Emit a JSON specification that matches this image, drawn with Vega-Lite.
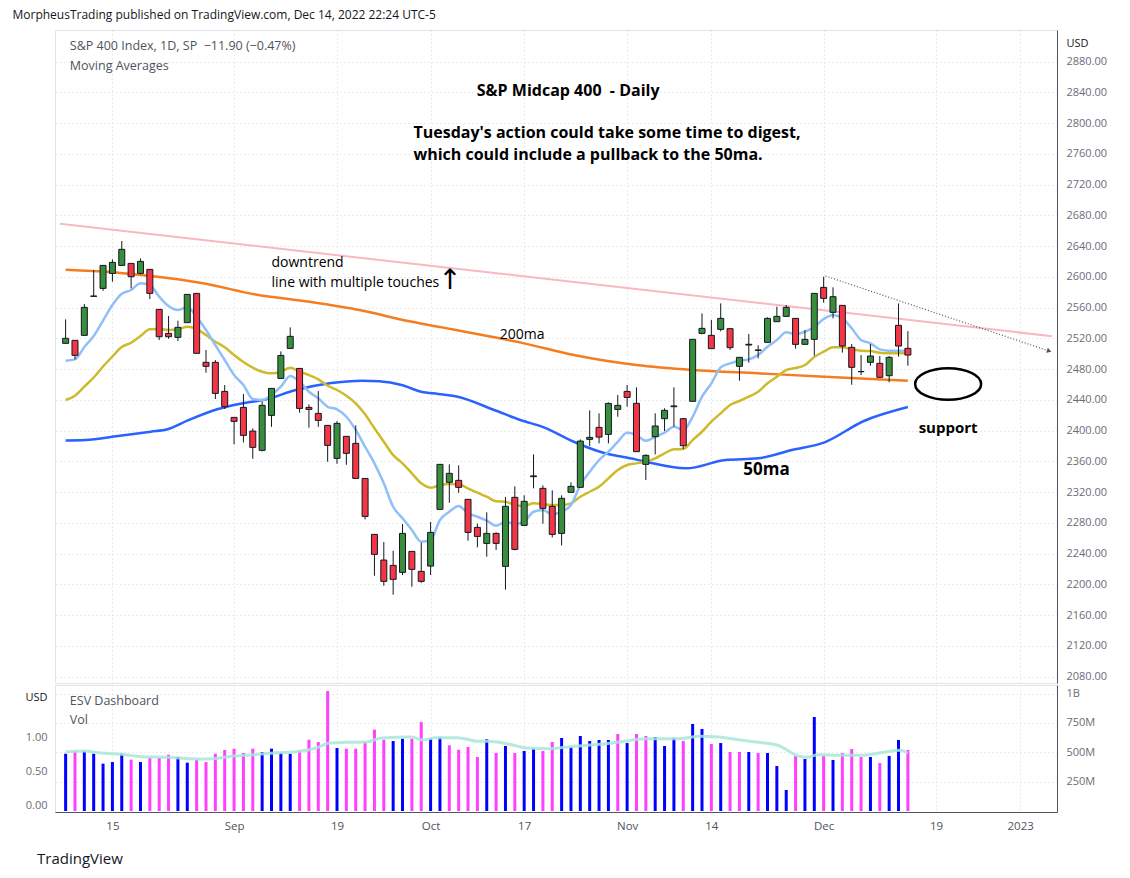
{
"$schema": "https://vega.github.io/schema/vega-lite/v6.json",
"padding": {"left": 8, "top": 8, "right": 12, "bottom": 0},
"background": "#ffffff",
"title": {"text": "MorpheusTrading published on TradingView.com, Dec 14, 2022 22:24 UTC-5", "anchor": "start", "frame": "bounds", "fontSize": 12, "fontWeight": "normal", "font": "Open Sans", "color": "#131722", "offset": 8, "dx": 4},
"spacing": 0,
"resolve": {"scale": {"color": "independent"}},
"datasets": {
"c": [
{"i":0,"o":2513.4,"h":2544.6,"l":2513.4,"c":2519.9,"v":488,"cd":"up","vd":"up"},
{"i":1,"o":2517.3,"h":2517.3,"l":2492.6,"c":2497.8,"v":509,"cd":"dn","vd":"dn"},
{"i":2,"o":2523.8,"h":2564.5,"l":2523.8,"c":2560.2,"v":509,"cd":"up","vd":"up"},
{"i":3,"o":2574.5,"h":2608.8,"l":2574.0,"c":2575.0,"v":488,"cd":"up","vd":"up"},
{"i":4,"o":2584.9,"h":2614.8,"l":2581.9,"c":2614.8,"v":403,"cd":"up","vd":"up"},
{"i":5,"o":2604.4,"h":2622.6,"l":2593.6,"c":2618.7,"v":417,"cd":"up","vd":"up"},
{"i":6,"o":2614.8,"h":2646.5,"l":2614.8,"c":2635.7,"v":488,"cd":"up","vd":"up"},
{"i":7,"o":2617.4,"h":2617.4,"l":2584.9,"c":2600.1,"v":437,"cd":"dn","vd":"dn"},
{"i":8,"o":2604.4,"h":2623.9,"l":2603.1,"c":2620.0,"v":417,"cd":"up","vd":"up"},
{"i":9,"o":2609.6,"h":2609.6,"l":2571.0,"c":2578.4,"v":452,"cd":"dn","vd":"dn"},
{"i":10,"o":2557.6,"h":2557.6,"l":2517.7,"c":2522.0,"v":452,"cd":"dn","vd":"dn"},
{"i":11,"o":2526.4,"h":2548.9,"l":2519.4,"c":2522.0,"v":480,"cd":"dn","vd":"dn"},
{"i":12,"o":2521.2,"h":2542.9,"l":2516.4,"c":2534.2,"v":460,"cd":"up","vd":"up"},
{"i":13,"o":2540.3,"h":2577.1,"l":2540.3,"c":2577.1,"v":412,"cd":"up","vd":"up"},
{"i":14,"o":2578.4,"h":2578.4,"l":2500.4,"c":2500.4,"v":437,"cd":"dn","vd":"dn"},
{"i":15,"o":2488.7,"h":2504.7,"l":2475.2,"c":2483.5,"v":417,"cd":"dn","vd":"dn"},
{"i":16,"o":2488.7,"h":2491.7,"l":2441.0,"c":2448.3,"v":488,"cd":"dn","vd":"dn"},
{"i":17,"o":2450.9,"h":2459.2,"l":2428.0,"c":2431.0,"v":520,"cd":"dn","vd":"dn"},
{"i":18,"o":2417.1,"h":2417.1,"l":2382.0,"c":2411.9,"v":531,"cd":"dn","vd":"dn"},
{"i":19,"o":2430.1,"h":2447.5,"l":2384.6,"c":2393.7,"v":494,"cd":"dn","vd":"dn"},
{"i":20,"o":2399.3,"h":2402.8,"l":2363.3,"c":2378.1,"v":531,"cd":"dn","vd":"dn"},
{"i":21,"o":2374.2,"h":2437.5,"l":2372.9,"c":2432.7,"v":503,"cd":"up","vd":"up"},
{"i":22,"o":2419.7,"h":2454.8,"l":2404.9,"c":2454.8,"v":531,"cd":"up","vd":"up"},
{"i":23,"o":2467.8,"h":2502.9,"l":2467.8,"c":2497.7,"v":494,"cd":"up","vd":"up"},
{"i":24,"o":2506.8,"h":2534.2,"l":2506.8,"c":2522.5,"v":488,"cd":"up","vd":"up"},
{"i":25,"o":2480.8,"h":2480.8,"l":2423.2,"c":2428.8,"v":517,"cd":"dn","vd":"dn"},
{"i":26,"o":2430.1,"h":2434.0,"l":2403.7,"c":2427.5,"v":607,"cd":"dn","vd":"dn"},
{"i":27,"o":2422.3,"h":2451.3,"l":2404.9,"c":2413.2,"v":588,"cd":"dn","vd":"dn"},
{"i":28,"o":2406.7,"h":2406.7,"l":2359.4,"c":2380.7,"v":1022,"cd":"dn","vd":"dn"},
{"i":29,"o":2363.8,"h":2412.3,"l":2356.8,"c":2409.3,"v":537,"cd":"up","vd":"up"},
{"i":30,"o":2392.4,"h":2392.4,"l":2355.5,"c":2370.3,"v":531,"cd":"dn","vd":"dn"},
{"i":31,"o":2383.3,"h":2406.7,"l":2337.7,"c":2337.7,"v":531,"cd":"dn","vd":"dn"},
{"i":32,"o":2337.7,"h":2337.7,"l":2284.4,"c":2288.3,"v":588,"cd":"dn","vd":"dn"},
{"i":33,"o":2264.9,"h":2264.9,"l":2211.1,"c":2238.9,"v":693,"cd":"dn","vd":"dn"},
{"i":34,"o":2231.5,"h":2254.9,"l":2198.1,"c":2203.8,"v":607,"cd":"dn","vd":"dn"},
{"i":35,"o":2224.6,"h":2243.7,"l":2186.4,"c":2206.4,"v":596,"cd":"dn","vd":"up"},
{"i":36,"o":2215.5,"h":2278.3,"l":2212.0,"c":2266.2,"v":616,"cd":"up","vd":"up"},
{"i":37,"o":2242.8,"h":2242.8,"l":2196.8,"c":2219.4,"v":616,"cd":"dn","vd":"dn"},
{"i":38,"o":2216.8,"h":2254.1,"l":2202.0,"c":2203.8,"v":758,"cd":"dn","vd":"dn"},
{"i":39,"o":2223.7,"h":2280.9,"l":2212.0,"c":2267.5,"v":616,"cd":"up","vd":"up"},
{"i":40,"o":2297.5,"h":2356.0,"l":2297.5,"c":2356.0,"v":630,"cd":"up","vd":"up"},
{"i":41,"o":2332.6,"h":2356.0,"l":2306.1,"c":2344.3,"v":560,"cd":"up","vd":"dn"},
{"i":42,"o":2335.2,"h":2354.7,"l":2319.1,"c":2326.1,"v":522,"cd":"dn","vd":"dn"},
{"i":43,"o":2310.5,"h":2310.5,"l":2256.7,"c":2267.5,"v":545,"cd":"dn","vd":"dn"},
{"i":44,"o":2274.0,"h":2278.8,"l":2248.0,"c":2262.3,"v":460,"cd":"dn","vd":"dn"},
{"i":45,"o":2253.2,"h":2293.6,"l":2235.9,"c":2266.2,"v":611,"cd":"up","vd":"up"},
{"i":46,"o":2266.2,"h":2267.5,"l":2244.6,"c":2253.2,"v":494,"cd":"dn","vd":"dn"},
{"i":47,"o":2223.3,"h":2313.5,"l":2193.0,"c":2301.4,"v":554,"cd":"up","vd":"up"},
{"i":48,"o":2313.1,"h":2327.4,"l":2244.1,"c":2245.4,"v":494,"cd":"dn","vd":"dn"},
{"i":49,"o":2276.6,"h":2315.7,"l":2276.6,"c":2307.9,"v":511,"cd":"up","vd":"up"},
{"i":50,"o":2340.0,"h":2369.0,"l":2324.8,"c":2341.0,"v":531,"cd":"up","vd":"up"},
{"i":51,"o":2324.8,"h":2328.7,"l":2278.8,"c":2298.8,"v":511,"cd":"dn","vd":"dn"},
{"i":52,"o":2301.4,"h":2322.2,"l":2261.0,"c":2264.9,"v":588,"cd":"dn","vd":"dn"},
{"i":53,"o":2266.2,"h":2315.7,"l":2250.6,"c":2311.8,"v":622,"cd":"up","vd":"up"},
{"i":54,"o":2319.6,"h":2332.6,"l":2319.6,"c":2327.4,"v":545,"cd":"up","vd":"up"},
{"i":55,"o":2326.1,"h":2388.5,"l":2326.1,"c":2386.3,"v":639,"cd":"up","vd":"up"},
{"i":56,"o":2388.5,"h":2426.2,"l":2379.8,"c":2391.1,"v":596,"cd":"up","vd":"up"},
{"i":57,"o":2404.1,"h":2422.3,"l":2383.3,"c":2391.5,"v":605,"cd":"dn","vd":"up"},
{"i":58,"o":2395.0,"h":2436.6,"l":2383.3,"c":2435.3,"v":605,"cd":"up","vd":"up"},
{"i":59,"o":2427.5,"h":2446.2,"l":2418.0,"c":2432.7,"v":656,"cd":"up","vd":"dn"},
{"i":60,"o":2450.9,"h":2459.2,"l":2431.0,"c":2443.1,"v":579,"cd":"dn","vd":"up"},
{"i":61,"o":2435.4,"h":2456.2,"l":2372.5,"c":2372.5,"v":656,"cd":"dn","vd":"dn"},
{"i":62,"o":2356.0,"h":2369.0,"l":2335.6,"c":2367.7,"v":639,"cd":"up","vd":"dn"},
{"i":63,"o":2392.0,"h":2422.4,"l":2369.0,"c":2405.9,"v":630,"cd":"up","vd":"up"},
{"i":64,"o":2415.4,"h":2428.9,"l":2399.4,"c":2426.3,"v":554,"cd":"up","vd":"up"},
{"i":65,"o":2431.0,"h":2456.2,"l":2405.0,"c":2432.0,"v":622,"cd":"up","vd":"up"},
{"i":66,"o":2415.4,"h":2415.4,"l":2376.0,"c":2380.3,"v":596,"cd":"dn","vd":"dn"},
{"i":67,"o":2438.0,"h":2518.6,"l":2438.0,"c":2518.6,"v":741,"cd":"up","vd":"up"},
{"i":68,"o":2526.4,"h":2552.4,"l":2525.1,"c":2532.9,"v":699,"cd":"up","vd":"up"},
{"i":69,"o":2523.8,"h":2543.8,"l":2506.5,"c":2506.5,"v":571,"cd":"dn","vd":"dn"},
{"i":70,"o":2531.6,"h":2565.4,"l":2529.0,"c":2545.9,"v":579,"cd":"up","vd":"up"},
{"i":71,"o":2532.5,"h":2532.5,"l":2504.7,"c":2507.8,"v":503,"cd":"dn","vd":"dn"},
{"i":72,"o":2483.5,"h":2495.2,"l":2464.8,"c":2495.2,"v":503,"cd":"up","vd":"dn"},
{"i":73,"o":2511.2,"h":2525.6,"l":2488.3,"c":2512.2,"v":503,"cd":"up","vd":"up"},
{"i":74,"o":2504.8,"h":2510.8,"l":2493.9,"c":2504.3,"v":494,"cd":"dn","vd":"dn"},
{"i":75,"o":2514.7,"h":2547.2,"l":2514.7,"c":2545.9,"v":494,"cd":"up","vd":"up"},
{"i":76,"o":2541.6,"h":2561.1,"l":2541.6,"c":2548.5,"v":383,"cd":"up","vd":"up"},
{"i":77,"o":2548.5,"h":2563.3,"l":2548.5,"c":2560.2,"v":179,"cd":"up","vd":"up"},
{"i":78,"o":2545.9,"h":2545.9,"l":2506.5,"c":2512.1,"v":469,"cd":"dn","vd":"dn"},
{"i":79,"o":2512.1,"h":2530.8,"l":2512.1,"c":2518.6,"v":443,"cd":"up","vd":"up"},
{"i":80,"o":2518.6,"h":2578.4,"l":2497.4,"c":2578.4,"v":801,"cd":"up","vd":"up"},
{"i":81,"o":2586.2,"h":2600.1,"l":2566.3,"c":2571.9,"v":469,"cd":"dn","vd":"dn"},
{"i":82,"o":2553.7,"h":2586.2,"l":2545.9,"c":2574.1,"v":435,"cd":"up","vd":"up"},
{"i":83,"o":2562.8,"h":2562.8,"l":2501.3,"c":2509.9,"v":494,"cd":"dn","vd":"dn"},
{"i":84,"o":2508.2,"h":2512.5,"l":2459.6,"c":2482.2,"v":528,"cd":"dn","vd":"dn"},
{"i":85,"o":2476.8,"h":2498.2,"l":2472.2,"c":2476.5,"v":460,"cd":"dn","vd":"dn"},
{"i":86,"o":2488.7,"h":2512.5,"l":2484.3,"c":2496.9,"v":460,"cd":"up","vd":"up"},
{"i":87,"o":2487.4,"h":2496.9,"l":2469.2,"c":2469.2,"v":409,"cd":"dn","vd":"dn"},
{"i":88,"o":2471.3,"h":2496.9,"l":2462.7,"c":2495.2,"v":469,"cd":"up","vd":"up"},
{"i":89,"o":2536.8,"h":2565.4,"l":2496.1,"c":2509.9,"v":605,"cd":"dn","vd":"up"},
{"i":90,"o":2506.9,"h":2529.4,"l":2484.3,"c":2498.2,"v":520,"cd":"dn","vd":"dn"}
],
"ma": [
{"m":"ma200","i":0,"p":2609.0},{"m":"ma200","i":5,"p":2605.8},{"m":"ma200","i":9.1,"p":2601.0},{"m":"ma200","i":14.7,"p":2591.5},{"m":"ma200","i":20.3,"p":2577.0},{"m":"ma200","i":26.1,"p":2567.5},{"m":"ma200","i":31.4,"p":2556.8},{"m":"ma200","i":36.6,"p":2542.4},{"m":"ma200","i":40.2,"p":2534.2},{"m":"ma200","i":45.5,"p":2522.0},{"m":"ma200","i":49,"p":2513.4},{"m":"ma200","i":54.3,"p":2498.2},{"m":"ma200","i":61,"p":2485.2},{"m":"ma200","i":67,"p":2478.7},{"m":"ma200","i":74,"p":2474.4},{"m":"ma200","i":81.1,"p":2470.0},{"m":"ma200","i":90,"p":2464.8},
{"m":"ma50","i":0,"p":2387.0},{"m":"ma50","i":2.1,"p":2387.6},{"m":"ma50","i":5.6,"p":2392.9},{"m":"ma50","i":9.1,"p":2398.5},{"m":"ma50","i":10.9,"p":2401.6},{"m":"ma50","i":13,"p":2412.8},{"m":"ma50","i":16.2,"p":2427.6},{"m":"ma50","i":19.7,"p":2437.1},{"m":"ma50","i":21.1,"p":2439.7},{"m":"ma50","i":24.6,"p":2452.7},{"m":"ma50","i":28.2,"p":2461.4},{"m":"ma50","i":31.7,"p":2464.8},{"m":"ma50","i":33.5,"p":2464.0},{"m":"ma50","i":35.9,"p":2459.2},{"m":"ma50","i":38,"p":2450.5},{"m":"ma50","i":39.8,"p":2447.5},{"m":"ma50","i":41.9,"p":2444.0},{"m":"ma50","i":45.8,"p":2426.7},{"m":"ma50","i":48.6,"p":2413.7},{"m":"ma50","i":51.1,"p":2404.2},{"m":"ma50","i":54.3,"p":2385.4},{"m":"ma50","i":57.1,"p":2372.4},{"m":"ma50","i":60.9,"p":2362.5},{"m":"ma50","i":62,"p":2359.4},{"m":"ma50","i":66.3,"p":2350.8},{"m":"ma50","i":70.5,"p":2361.6},{"m":"ma50","i":74,"p":2363.8},{"m":"ma50","i":77.6,"p":2374.6},{"m":"ma50","i":81.1,"p":2384.7},{"m":"ma50","i":85.3,"p":2412.4},{"m":"ma50","i":90,"p":2430.6},
{"m":"ma20","i":0,"p":2439.7},{"m":"ma20","i":1,"p":2445.3},{"m":"ma20","i":2,"p":2457.2},{"m":"ma20","i":3,"p":2469.0},{"m":"ma20","i":4,"p":2483.3},{"m":"ma20","i":5,"p":2496.3},{"m":"ma20","i":6,"p":2508.6},{"m":"ma20","i":7,"p":2514.2},{"m":"ma20","i":8,"p":2522.9},{"m":"ma20","i":9,"p":2531.7},{"m":"ma20","i":10,"p":2532.0},{"m":"ma20","i":11,"p":2530.7},{"m":"ma20","i":12,"p":2531.7},{"m":"ma20","i":13,"p":2535.0},{"m":"ma20","i":14,"p":2532.0},{"m":"ma20","i":15,"p":2524.2},{"m":"ma20","i":16,"p":2515.5},{"m":"ma20","i":17,"p":2508.2},{"m":"ma20","i":18,"p":2498.2},{"m":"ma20","i":19,"p":2489.1},{"m":"ma20","i":20,"p":2481.7},{"m":"ma20","i":21,"p":2476.5},{"m":"ma20","i":22,"p":2474.4},{"m":"ma20","i":23,"p":2476.5},{"m":"ma20","i":24,"p":2481.7},{"m":"ma20","i":25,"p":2476.5},{"m":"ma20","i":26,"p":2472.2},{"m":"ma20","i":27,"p":2466.6},{"m":"ma20","i":28,"p":2458.3},{"m":"ma20","i":29,"p":2452.7},{"m":"ma20","i":30,"p":2445.3},{"m":"ma20","i":31,"p":2435.4},{"m":"ma20","i":32,"p":2421.1},{"m":"ma20","i":33,"p":2402.9},{"m":"ma20","i":34,"p":2385.4},{"m":"ma20","i":35,"p":2368.1},{"m":"ma20","i":36,"p":2357.3},{"m":"ma20","i":37,"p":2344.3},{"m":"ma20","i":38,"p":2331.3},{"m":"ma20","i":39,"p":2325.6},{"m":"ma20","i":40,"p":2329.1},{"m":"ma20","i":41,"p":2330.4},{"m":"ma20","i":42,"p":2330.0},{"m":"ma20","i":43,"p":2324.8},{"m":"ma20","i":44,"p":2319.1},{"m":"ma20","i":45,"p":2313.9},{"m":"ma20","i":46,"p":2307.9},{"m":"ma20","i":47,"p":2307.4},{"m":"ma20","i":48,"p":2303.1},{"m":"ma20","i":49,"p":2301.8},{"m":"ma20","i":50,"p":2305.3},{"m":"ma20","i":51,"p":2304.4},{"m":"ma20","i":52,"p":2303.1},{"m":"ma20","i":53,"p":2303.1},{"m":"ma20","i":54,"p":2305.3},{"m":"ma20","i":55,"p":2313.9},{"m":"ma20","i":56,"p":2320.4},{"m":"ma20","i":57,"p":2326.9},{"m":"ma20","i":58,"p":2337.8},{"m":"ma20","i":59,"p":2348.6},{"m":"ma20","i":60,"p":2355.1},{"m":"ma20","i":61,"p":2357.3},{"m":"ma20","i":62,"p":2359.4},{"m":"ma20","i":63,"p":2363.8},{"m":"ma20","i":64,"p":2370.3},{"m":"ma20","i":65,"p":2375.5},{"m":"ma20","i":66,"p":2375.9},{"m":"ma20","i":67,"p":2387.6},{"m":"ma20","i":68,"p":2398.4},{"m":"ma20","i":69,"p":2411.5},{"m":"ma20","i":70,"p":2422.4},{"m":"ma20","i":71,"p":2433.2},{"m":"ma20","i":72,"p":2438.4},{"m":"ma20","i":73,"p":2444.0},{"m":"ma20","i":74,"p":2450.5},{"m":"ma20","i":75,"p":2461.4},{"m":"ma20","i":76,"p":2470.0},{"m":"ma20","i":77,"p":2478.7},{"m":"ma20","i":78,"p":2481.3},{"m":"ma20","i":79,"p":2485.2},{"m":"ma20","i":80,"p":2495.6},{"m":"ma20","i":81,"p":2502.5},{"m":"ma20","i":82,"p":2508.2},{"m":"ma20","i":83,"p":2508.2},{"m":"ma20","i":84,"p":2505.6},{"m":"ma20","i":85,"p":2503.8},{"m":"ma20","i":86,"p":2503.4},{"m":"ma20","i":87,"p":2501.2},{"m":"ma20","i":88,"p":2500.4},{"m":"ma20","i":89,"p":2500.4},{"m":"ma20","i":90,"p":2500.4},
{"m":"ma10","i":0,"p":2490.8},{"m":"ma10","i":1,"p":2492.6},{"m":"ma10","i":2,"p":2508.6},{"m":"ma10","i":3,"p":2522.9},{"m":"ma10","i":4,"p":2543.1},{"m":"ma10","i":5,"p":2563.3},{"m":"ma10","i":6,"p":2577.9},{"m":"ma10","i":7,"p":2582.8},{"m":"ma10","i":8,"p":2591.5},{"m":"ma10","i":9,"p":2589.3},{"m":"ma10","i":10,"p":2574.1},{"m":"ma10","i":11,"p":2562.0},{"m":"ma10","i":12,"p":2556.8},{"m":"ma10","i":13,"p":2560.3},{"m":"ma10","i":14,"p":2548.0},{"m":"ma10","i":15,"p":2530.7},{"m":"ma10","i":16,"p":2511.2},{"m":"ma10","i":17,"p":2491.7},{"m":"ma10","i":18,"p":2472.2},{"m":"ma10","i":19,"p":2459.2},{"m":"ma10","i":20,"p":2441.0},{"m":"ma10","i":21,"p":2439.7},{"m":"ma10","i":22,"p":2446.2},{"m":"ma10","i":23,"p":2457.0},{"m":"ma10","i":24,"p":2470.9},{"m":"ma10","i":25,"p":2463.5},{"m":"ma10","i":26,"p":2450.5},{"m":"ma10","i":27,"p":2441.9},{"m":"ma10","i":28,"p":2430.9},{"m":"ma10","i":29,"p":2427.6},{"m":"ma10","i":30,"p":2417.9},{"m":"ma10","i":31,"p":2400.7},{"m":"ma10","i":32,"p":2378.9},{"m":"ma10","i":33,"p":2357.3},{"m":"ma10","i":34,"p":2331.3},{"m":"ma10","i":35,"p":2300.9},{"m":"ma10","i":36,"p":2285.8},{"m":"ma10","i":37,"p":2270.6},{"m":"ma10","i":38,"p":2255.4},{"m":"ma10","i":39,"p":2257.6},{"m":"ma10","i":40,"p":2283.6},{"m":"ma10","i":41,"p":2294.4},{"m":"ma10","i":42,"p":2301.8},{"m":"ma10","i":43,"p":2292.3},{"m":"ma10","i":44,"p":2287.9},{"m":"ma10","i":45,"p":2282.7},{"m":"ma10","i":46,"p":2276.2},{"m":"ma10","i":47,"p":2281.4},{"m":"ma10","i":48,"p":2278.4},{"m":"ma10","i":49,"p":2281.4},{"m":"ma10","i":50,"p":2294.4},{"m":"ma10","i":51,"p":2296.6},{"m":"ma10","i":52,"p":2291.0},{"m":"ma10","i":53,"p":2294.4},{"m":"ma10","i":54,"p":2303.1},{"m":"ma10","i":55,"p":2329.1},{"m":"ma10","i":56,"p":2346.4},{"m":"ma10","i":57,"p":2361.6},{"m":"ma10","i":58,"p":2372.4},{"m":"ma10","i":59,"p":2385.4},{"m":"ma10","i":60,"p":2397.2},{"m":"ma10","i":61,"p":2394.2},{"m":"ma10","i":62,"p":2386.7},{"m":"ma10","i":63,"p":2391.9},{"m":"ma10","i":64,"p":2397.2},{"m":"ma10","i":65,"p":2404.9},{"m":"ma10","i":66,"p":2400.7},{"m":"ma10","i":67,"p":2417.9},{"m":"ma10","i":68,"p":2444.0},{"m":"ma10","i":69,"p":2461.4},{"m":"ma10","i":70,"p":2482.2},{"m":"ma10","i":71,"p":2487.4},{"m":"ma10","i":72,"p":2490.8},{"m":"ma10","i":73,"p":2492.6},{"m":"ma10","i":74,"p":2498.2},{"m":"ma10","i":75,"p":2509.0},{"m":"ma10","i":76,"p":2517.7},{"m":"ma10","i":77,"p":2527.7},{"m":"ma10","i":78,"p":2525.5},{"m":"ma10","i":79,"p":2528.5},{"m":"ma10","i":80,"p":2535.0},{"m":"ma10","i":81,"p":2545.0},{"m":"ma10","i":82,"p":2550.3},{"m":"ma10","i":83,"p":2546.0},{"m":"ma10","i":84,"p":2533.0},{"m":"ma10","i":85,"p":2517.7},{"m":"ma10","i":86,"p":2513.4},{"m":"ma10","i":87,"p":2505.6},{"m":"ma10","i":88,"p":2503.8},{"m":"ma10","i":89,"p":2503.8},{"m":"ma10","i":90,"p":2503.4}
],
"tl": [
{"g":"trend","i":-0.6,"p":2668.9},{"g":"trend","i":105.4,"p":2522.7},
{"g":"dot","i":81.2,"p":2601.0},{"g":"dot","i":105.1,"p":2503.4},
{"g":"arrow","i":105.1,"p":2503.4},
{"g":"ell","i":94.3,"p":2460.5}
],
"notes": [
{"k":"hdr","i":0.45,"p":2900,"t":"S&P 400 Index, 1D, SP \u00a0−11.90 (−0.47%)"},
{"k":"hdr","i":0.45,"p":2874.2,"t":"Moving Averages"},
{"k":"head","i":53.7,"p":2841.6,"t":"S&P Midcap 400 \u00a0- Daily"},
{"k":"boldl","i":37.17,"p":2787,"t":"Tuesday's action could take some time to digest,"},
{"k":"boldl","i":37.17,"p":2758.4,"t":"which could include a pullback to the 50ma."},
{"k":"norm","i":22.0,"p":2618.3,"t":"downtrend"},
{"k":"norm","i":22.0,"p":2592.3,"t":"line with multiple touches"},
{"k":"norm","i":46.4,"p":2524.2,"t":"200ma"},
{"k":"arrow","i":41.06,"p":2594.5,"t":"↑"},
{"k":"big","i":74.9,"p":2348.6,"t":"50ma"},
{"k":"boldc","i":94.3,"p":2403.3,"t":"support"}
],
"vma": [
{"i":0,"v":503},{"i":1.9,"v":511},{"i":3.8,"v":494},{"i":6,"v":483},{"i":8.1,"v":463},{"i":10.9,"v":458},{"i":14.1,"v":443},{"i":15.8,"v":446},{"i":17.9,"v":469},{"i":20.1,"v":480},{"i":22.5,"v":497},{"i":24.3,"v":503},{"i":26.8,"v":537},{"i":28.2,"v":579},{"i":29.9,"v":585},{"i":32.1,"v":588},{"i":33.8,"v":622},{"i":37,"v":630},{"i":38.2,"v":605},{"i":39.5,"v":625},{"i":41.9,"v":625},{"i":44.1,"v":594},{"i":45.1,"v":594},{"i":47.2,"v":573},{"i":49.3,"v":537},{"i":51.8,"v":531},{"i":54.3,"v":551},{"i":57.1,"v":568},{"i":59.2,"v":588},{"i":62,"v":616},{"i":65.6,"v":616},{"i":67.7,"v":636},{"i":69.8,"v":630},{"i":72.3,"v":602},{"i":74.7,"v":579},{"i":76.1,"v":560},{"i":78.3,"v":469},{"i":79.3,"v":458},{"i":80.4,"v":480},{"i":82.5,"v":475},{"i":85.3,"v":475},{"i":87.4,"v":500},{"i":89.2,"v":517},{"i":90,"v":492}
],
"vnotes": [
{"i":0.45,"v":937,"t":"ESV Dashboard"},
{"i":0.45,"v":775,"t":"Vol"}
]
},
"vconcat": [
{
"width": 1002, "height": 653,
"encoding": {"x": {"field": "i", "type": "quantitative", "scale": {"domain": [-0.6, 105.4], "nice": false, "zero": false},
  "axis": {"values": [5,18,29,39,49,60,69,81,93,102], "tickCount": 40, "labels": false, "ticks": false, "domain": false, "grid": true, "title": null, "minExtent": 0, "maxExtent": 0}}},
"layer": [
{"data": {"name": "ma"}, "mark": {"type": "line", "strokeWidth": 2.5, "interpolate": "monotone"},
 "encoding": {"y": {"field": "p", "type": "quantitative", "title": null, "scale": {"domain": [2071.6, 2921], "nice": false, "zero": false},
   "axis": {"orient": "right", "values": [2080,2120,2160,2200,2240,2280,2320,2360,2400,2440,2480,2520,2560,2600,2640,2680,2720,2760,2800,2840,2880,2904], "tickCount": 40,
     "labelExpr": "datum.value > 2900 ? 'USD' : format(datum.value, '.2f')", "labelAlign": "left", "labelBaseline": "middle", "ticks": false, "labelPadding": 9,
     "domain": true, "domainColor": "#50535e", "grid": true, "gridOpacity": {"condition": {"test": "datum.value > 2900", "value": 0}, "value": 1},
     "labelColor": {"condition": {"test": "datum.value > 2900", "value": "#131722"}, "value": "#6a6d78"}, "labelOverlap": false, "labelFontSize": 11, "minExtent": 58, "maxExtent": 58}},
   "color": {"field": "m", "type": "nominal", "legend": null, "scale": {"domain": ["up","dn","ma10","ma20","ma50","ma200"], "range": ["#388e3c","#f23645","#90bff9","#cdbb2c","#2962ff","#f57c1f"]}},
   "detail": {"field": "m"}}},
{"data": {"name": "tl"}, "transform": [{"filter": "datum.g == 'trend'"}], "mark": {"type": "line", "color": "#f9b8c0", "strokeWidth": 2, "clip": true},
 "encoding": {"y": {"field": "p", "type": "quantitative", "title": null, "scale": {"domain": [2071.6, 2921], "nice": false, "zero": false}}}},
{"data": {"name": "tl"}, "transform": [{"filter": "datum.g == 'dot'"}], "mark": {"type": "line", "color": "#555555", "strokeWidth": 1.2, "strokeDash": [1, 2]},
 "encoding": {"y": {"field": "p", "type": "quantitative", "title": null, "scale": {"domain": [2071.6, 2921], "nice": false, "zero": false}}}},
{"data": {"name": "tl"}, "transform": [{"filter": "datum.g == 'arrow'"}], "mark": {"type": "point", "shape": "triangle-right", "angle": 18, "size": 28, "filled": true, "color": "#555555", "opacity": 1},
 "encoding": {"y": {"field": "p", "type": "quantitative", "title": null, "scale": {"domain": [2071.6, 2921], "nice": false, "zero": false}}}},
{"data": {"name": "tl"}, "transform": [{"filter": "datum.g == 'ell'"}], "mark": {"type": "point", "shape": "M -1 0 A 1 0.48 0 1 0 1 0 A 1 0.48 0 1 0 -1 0 Z", "size": 4356, "filled": false, "color": "#000000", "strokeWidth": 2.5, "opacity": 1},
 "encoding": {"y": {"field": "p", "type": "quantitative", "title": null, "scale": {"domain": [2071.6, 2921], "nice": false, "zero": false}}}},
{"data": {"name": "c"}, "mark": {"type": "rule", "color": "#131722", "strokeWidth": 1},
 "encoding": {"y": {"field": "l", "type": "quantitative", "title": null, "scale": {"domain": [2071.6, 2921], "nice": false, "zero": false}}, "y2": {"field": "h"}}},
{"data": {"name": "c"}, "mark": {"type": "bar", "size": 6, "stroke": "#131722", "strokeWidth": 1},
 "encoding": {"y": {"field": "o", "type": "quantitative", "title": null, "scale": {"domain": [2071.6, 2921], "nice": false, "zero": false}}, "y2": {"field": "c"},
   "color": {"field": "cd", "type": "nominal", "legend": null, "scale": {"domain": ["up","dn","ma10","ma20","ma50","ma200"], "range": ["#388e3c","#f23645","#90bff9","#cdbb2c","#2962ff","#f57c1f"]}}}},
{"data": {"name": "notes"}, "transform": [{"filter": "datum.k == 'hdr'"}], "mark": {"type": "text", "align": "left", "baseline": "middle", "fontSize": 12.5, "color": "#50535e", "font": "Open Sans"},
 "encoding": {"y": {"field": "p", "type": "quantitative", "title": null, "scale": {"domain": [2071.6, 2921], "nice": false, "zero": false}}, "text": {"field": "t"}}},
{"data": {"name": "notes"}, "transform": [{"filter": "datum.k == 'head'"}], "mark": {"type": "text", "align": "center", "baseline": "middle", "fontSize": 16, "fontWeight": "bold", "color": "#000000", "font": "Open Sans"},
 "encoding": {"y": {"field": "p", "type": "quantitative", "title": null, "scale": {"domain": [2071.6, 2921], "nice": false, "zero": false}}, "text": {"field": "t"}}},
{"data": {"name": "notes"}, "transform": [{"filter": "datum.k == 'boldl'"}], "mark": {"type": "text", "align": "left", "baseline": "middle", "fontSize": 16, "fontWeight": "bold", "color": "#000000", "font": "Open Sans"},
 "encoding": {"y": {"field": "p", "type": "quantitative", "title": null, "scale": {"domain": [2071.6, 2921], "nice": false, "zero": false}}, "text": {"field": "t"}}},
{"data": {"name": "notes"}, "transform": [{"filter": "datum.k == 'norm'"}], "mark": {"type": "text", "align": "left", "baseline": "middle", "fontSize": 14, "color": "#000000", "font": "Open Sans"},
 "encoding": {"y": {"field": "p", "type": "quantitative", "title": null, "scale": {"domain": [2071.6, 2921], "nice": false, "zero": false}}, "text": {"field": "t"}}},
{"data": {"name": "notes"}, "transform": [{"filter": "datum.k == 'arrow'"}], "mark": {"type": "text", "align": "center", "baseline": "middle", "fontSize": 28, "color": "#000000", "font": "DejaVu Sans"},
 "encoding": {"y": {"field": "p", "type": "quantitative", "title": null, "scale": {"domain": [2071.6, 2921], "nice": false, "zero": false}}, "text": {"field": "t"}}},
{"data": {"name": "notes"}, "transform": [{"filter": "datum.k == 'big'"}], "mark": {"type": "text", "align": "center", "baseline": "middle", "fontSize": 17, "fontWeight": "bold", "color": "#000000", "font": "Open Sans"},
 "encoding": {"y": {"field": "p", "type": "quantitative", "title": null, "scale": {"domain": [2071.6, 2921], "nice": false, "zero": false}}, "text": {"field": "t"}}},
{"data": {"name": "notes"}, "transform": [{"filter": "datum.k == 'boldc'"}], "mark": {"type": "text", "align": "center", "baseline": "middle", "fontSize": 15, "fontWeight": "bold", "color": "#000000", "font": "Open Sans"},
 "encoding": {"y": {"field": "p", "type": "quantitative", "title": null, "scale": {"domain": [2071.6, 2921], "nice": false, "zero": false}}, "text": {"field": "t"}}}
]
},
{
"width": 1002, "height": 127,
"title": {"text": "TradingView", "orient": "bottom", "anchor": "start", "frame": "group", "fontSize": 15, "fontWeight": "normal", "font": "Open Sans", "color": "#131722", "offset": 12, "dx": -18},
"encoding": {"x": {"field": "i", "type": "quantitative", "scale": {"domain": [-0.6, 105.4], "nice": false, "zero": false},
  "axis": {"values": [5,18,29,39,49,60,69,81,93,102], "tickCount": 40, "labelExpr": "datum.value == 5 ? '15' : datum.value == 18 ? 'Sep' : datum.value == 29 ? '19' : datum.value == 39 ? 'Oct' : datum.value == 49 ? '17' : datum.value == 60 ? 'Nov' : datum.value == 69 ? '14' : datum.value == 81 ? 'Dec' : datum.value == 93 ? '19' : '2023'",
    "ticks": false, "domain": true, "domainColor": "#50535e", "labelPadding": 8, "grid": true, "title": null, "labelFontSize": 11.5, "labelColor": "#50535e", "minExtent": 28, "maxExtent": 28}}},
"layer": [
{"layer": [
 {"data": {"name": "c"}, "mark": {"type": "bar", "size": 3},
  "encoding": {"y": {"field": "v", "type": "quantitative", "title": null, "scale": {"domain": [-8.5, 1073.5], "nice": false, "zero": false},
     "axis": {"orient": "right", "values": [250, 500, 750, 1000], "tickCount": 40, "labelExpr": "datum.value >= 1000 ? '1B' : datum.value + 'M'", "labelAlign": "left", "labelBaseline": "middle", "ticks": false, "labelPadding": 9, "domain": true, "domainColor": "#50535e", "grid": true, "labelFontSize": 11, "labelColor": "#6a6d78", "labelOverlap": false, "minExtent": 58, "maxExtent": 58}},
    "y2": {"datum": 0},
    "color": {"field": "vd", "type": "nominal", "legend": null, "scale": {"domain": ["up", "dn"], "range": ["#0000ff", "#ff40ff"]}}}},
 {"data": {"name": "vma"}, "mark": {"type": "line", "color": "#a8e6d8", "strokeWidth": 3, "opacity": 0.85, "interpolate": "monotone"},
  "encoding": {"y": {"field": "v", "type": "quantitative", "title": null, "scale": {"domain": [-8.5, 1073.5], "nice": false, "zero": false}}}},
 {"data": {"name": "vnotes"}, "mark": {"type": "text", "align": "left", "baseline": "middle", "fontSize": 12.5, "color": "#50535e", "font": "Open Sans"},
  "encoding": {"y": {"field": "v", "type": "quantitative", "title": null, "scale": {"domain": [-8.5, 1073.5], "nice": false, "zero": false}}, "text": {"field": "t"}}}
]},
{"data": {"values": [{"e": 0}]}, "mark": {"type": "rule", "opacity": 0},
 "encoding": {"y": {"field": "e", "type": "quantitative", "title": null, "scale": {"domain": [-0.1, 1.787], "nice": false, "zero": false},
   "axis": {"orient": "left", "values": [0, 0.5, 1, 1.6], "tickCount": 40, "labelExpr": "datum.value > 1.5 ? 'USD' : format(datum.value, '.2f')", "ticks": false, "labelPadding": 8, "domain": false, "grid": false, "labelFontSize": 11, "labelBaseline": "middle", "labelOverlap": false,
     "labelColor": {"condition": {"test": "datum.value > 1.5", "value": "#131722"}, "value": "#6a6d78"}, "minExtent": 46, "maxExtent": 46}}}}
],
"resolve": {"scale": {"y": "independent"}, "axis": {"y": "independent"}}
}
],
"config": {
 "font": "Open Sans",
 "view": {"stroke": "#e0e3eb"},
 "axis": {"labelFont": "Open Sans", "gridColor": "#d5d8e0", "gridDash": [1, 3], "gridWidth": 1, "labelOverlap": false}
}
}
